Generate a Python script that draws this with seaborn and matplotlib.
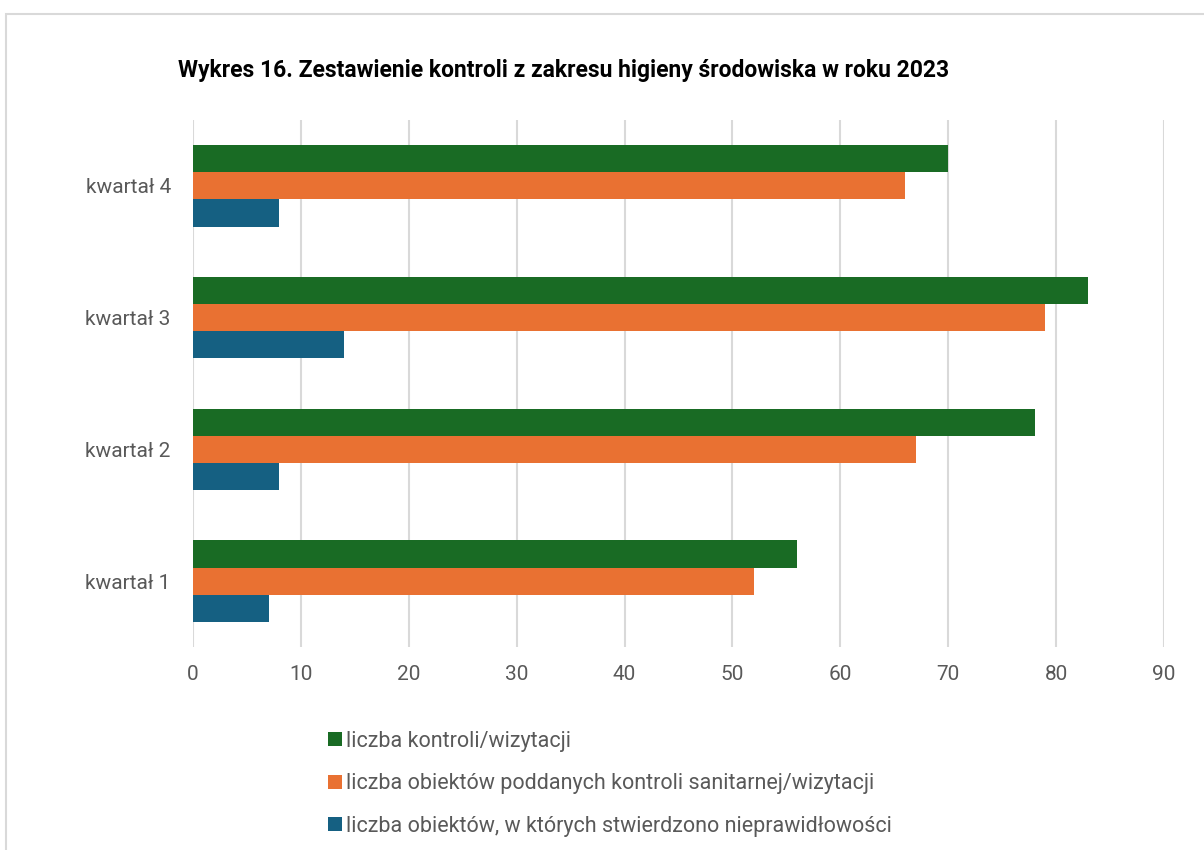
import matplotlib
matplotlib.use('Agg')
import matplotlib.pyplot as plt
from matplotlib.patches import Rectangle
import seaborn as sns
import pandas as pd

quarters = ['kwartał 4', 'kwartał 3', 'kwartał 2', 'kwartał 1']
series = ['liczba kontroli/wizytacji',
          'liczba obiektów poddanych kontroli sanitarnej/wizytacji',
          'liczba obiektów, w których stwierdzono nieprawidłowości']
kontrole = [70, 83, 78, 56]
obiekty = [66, 79, 67, 52]
nieprawidlowosci = [8, 14, 8, 7]
colors = ['#196B24', '#E97132', '#156082']

rows = []
for name, vals in zip(series, [kontrole, obiekty, nieprawidlowosci]):
    for q, v in zip(quarters, vals):
        rows.append({'kwartal': q, 'seria': name, 'wartosc': v})
df = pd.DataFrame(rows)

sns.set_style('white')
plt.rcParams['font.family'] = ['Roboto', 'DejaVu Sans']

fig = plt.figure(figsize=(12.04, 8.5), dpi=100)
ax = fig.add_axes([193 / 1204, 1 - 647 / 850, (1164 - 193) / 1204, (647 - 120) / 850])

sns.barplot(data=df, x='wartosc', y='kwartal', hue='seria', order=quarters,
            hue_order=series, palette=colors, orient='h', width=0.62,
            gap=0, linewidth=0, saturation=1, errorbar=None, ax=ax)

ax.set_xlim(0, 90)
ax.set_ylim(3.5, -0.5)
ax.set_xticks(range(0, 91, 10))
ax.grid(axis='x', color='#D9D9D9', linewidth=1.5)
ax.grid(axis='y', visible=False)
ax.set_axisbelow(True)
for s in ax.spines.values():
    s.set_visible(False)
ax.set_xlabel('')
ax.set_ylabel('')
ax.tick_params(axis='both', length=0, labelsize=15, labelcolor='#595959')
ax.tick_params(axis='y', pad=16)
ax.tick_params(axis='x', pad=13)

ax.get_legend().remove()
handles, labels = ax.get_legend_handles_labels()
fig.legend(handles, labels, loc='upper left', bbox_to_anchor=(317 / 1204, 1 - 720 / 850),
           frameon=False, fontsize=15.5, labelcolor='#595959', handlelength=0.65,
           handleheight=0.65, handletextpad=0.2, labelspacing=1.0, borderpad=0)

fig.text(178 / 1204, 1 - 70 / 850,
         'Wykres 16. Zestawienie kontroli z zakresu higieny środowiska w roku 2023',
         fontsize=16.5, fontweight='bold', color='black', va='center', ha='left',
         family=['Roboto', 'DejaVu Sans'])

# ramka wykresu (przycięta)
fig.add_artist(Rectangle((6 / 1204, -0.1), 1.2, 1 - 14 / 850 + 0.1,
                         transform=fig.transFigure, fill=False,
                         edgecolor='#D9D9D9', linewidth=1.5, clip_on=False))

fig.savefig('out.png', dpi=100)
